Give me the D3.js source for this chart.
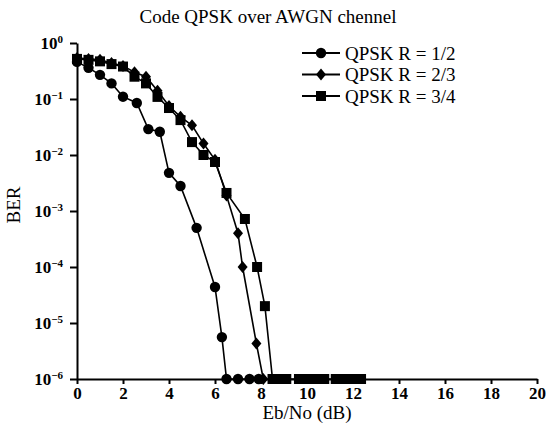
<!DOCTYPE html>
<html>
<head>
<meta charset="utf-8">
<script src="https://cdn.jsdelivr.net/npm/d3@7"></script>
<style>
  body { margin: 0; background: #fff; }
  svg text { font-family: "Liberation Serif", "Times New Roman", serif; fill: #000; }
  .axis path, .axis line { stroke: #000; stroke-width: 2; }
  .axis text { font-size: 17px; font-weight: bold; }
</style>
</head>
<body>
<svg id="chart" width="547" height="433"></svg>
<script>
// series
var seriesNames = ["QPSK R = 1/2", "QPSK R = 2/3", "QPSK R = 3/4"];
var markers = ["circle", "diamond", "square"];

var r12x = [0, 0.5, 1, 1.5, 2, 2.6, 3.1, 3.6, 4.0, 4.5, 5.2, 6.0, 6.3, 6.5, 7.0, 7.5, 7.9];
var r12y = [0.46, 0.36, 0.27, 0.19, 0.11, 0.085, 0.029, 0.026, 0.0048, 0.0028, 5e-4, 4.4e-5, 5.6e-6, 1e-6, 1e-6, 1e-6, 1e-6];

var r23x = [0, 0.5, 1, 1.5, 2, 2.5, 3, 3.5, 4, 4.5, 5, 5.5, 6, 6.5, 7.0, 7.2, 7.8, 8.1];
var r23y = [0.54, 0.52, 0.50, 0.44, 0.39, 0.30, 0.25, 0.14, 0.075, 0.048, 0.034, 0.016, 0.0082, 0.0019, 4.0e-4, 1.0e-4, 4.3e-6, 1e-6];

var r34x = [0, 0.5, 1, 1.5, 2, 2.5, 3, 3.5, 4, 4.5, 5, 5.5, 6, 6.5, 7.3, 7.83, 8.17, 8.5,
            8.8, 9.1, 9.65, 9.9, 10.2, 10.45, 10.75, 11.25, 11.5, 11.8, 12.1, 12.35];
var r34y = [0.52, 0.50, 0.47, 0.42, 0.38, 0.25, 0.19, 0.109, 0.069, 0.042, 0.017, 0.010, 0.0075, 0.0021, 7.2e-4, 1e-4, 2e-5, 1e-6,
            1e-6, 1e-6, 1e-6, 1e-6, 1e-6, 1e-6, 1e-6, 1e-6, 1e-6, 1e-6, 1e-6, 1e-6];

var xTicks = [0, 2, 4, 6, 8, 10, 12, 14, 16, 18, 20];
var yTicks = [1, 1e-1, 1e-2, 1e-3, 1e-4, 1e-5, 1e-6];

var seriesX = [r12x, r23x, r34x];
var seriesY = [r12y, r23y, r34y];

var svg = d3.select("#chart");

var x = d3.scaleLinear().domain([0, 20]).range([77, 537]);
var y = d3.scaleLog().domain([1e-6, 1]).range([379, 43]);

// title
svg.append("text")
    .attr("x", 268)
    .attr("y", 23)
    .attr("text-anchor", "middle")
    .style("font-size", "19px")
    .text("Code QPSK over AWGN chennel");

var xAxis = d3.axisBottom(x)
    .tickValues(xTicks)
    .tickSize(5)
    .tickSizeOuter(0)
    .tickFormat(d3.format("d"));

svg.append("g")
    .attr("class", "x axis")
    .attr("transform", "translate(0," + y(1e-6) + ")")
    .call(xAxis);

var yAxis = d3.axisLeft(y)
    .tickValues(yTicks)
    .tickSize(7)
    .tickSizeOuter(0)
    .tickFormat("");

var gy = svg.append("g")
    .attr("class", "y axis")
    .attr("transform", "translate(" + x(0) + ",0)")
    .call(yAxis);

gy.selectAll(".tick").append("text")
    .attr("x", -14)
    .attr("dy", "0.3em")
    .attr("text-anchor", "end")
    .each(function(d) {
      var e = Math.round(Math.log10(d));
      var t = d3.select(this);
      t.append("tspan").text("10");
      t.append("tspan")
          .attr("dy", "-0.5em")
          .style("font-size", "11px")
          .text(e === 0 ? "0" : "\u2212" + (-e));
    });

// axis labels
svg.append("text")
    .attr("x", 307)
    .attr("y", 419)
    .attr("text-anchor", "middle")
    .style("font-size", "19px")
    .text("Eb/No (dB)");

svg.append("text")
    .attr("transform", "translate(20,205) rotate(-90)")
    .attr("text-anchor", "middle")
    .style("font-size", "19px")
    .text("BER");

var line = d3.line()
    .x(function(d) { return x(d[0]); })
    .y(function(d) { return y(d[1]); });

function drawMarker(g, type, cx, cy) {
  if (type == "circle") {
    g.append("circle").attr("cx", cx).attr("cy", cy).attr("r", 5.2).attr("fill", "#000");
  } else if (type == "diamond") {
    g.append("path")
        .attr("d", "M" + cx + "," + (cy - 6) + "L" + (cx + 5) + "," + cy + "L" + cx + "," + (cy + 6) + "L" + (cx - 5) + "," + cy + "Z")
        .attr("fill", "#000");
  } else {
    g.append("rect").attr("x", cx - 5).attr("y", cy - 5).attr("width", 10).attr("height", 10).attr("fill", "#000");
  }
}

for (var s = 0; s < 3; s++) {
  var data = seriesX[s].map(function(v, i) { return [v, seriesY[s][i]]; });
  var g = svg.append("g");
  g.append("path")
      .datum(data)
      .attr("fill", "none")
      .attr("stroke", "#000")
      .attr("stroke-width", 1.6)
      .attr("d", line);
  data.forEach(function(d) { drawMarker(g, markers[s], x(d[0]), y(d[1])); });
}

// legend
var legend = svg.append("g");
for (var k = 0; k < 3; k++) {
  var ly = 53 + k * 21.5;
  legend.append("line")
      .attr("x1", 302).attr("x2", 340)
      .attr("y1", ly).attr("y2", ly)
      .attr("stroke", "#000").attr("stroke-width", 2);
  drawMarker(legend, markers[k], 321, ly);
  legend.append("text")
      .attr("x", 345)
      .attr("y", ly)
      .attr("dy", "0.35em")
      .style("font-size", "19px")
      .text(seriesNames[k]);
}
</script>
</body>
</html>
